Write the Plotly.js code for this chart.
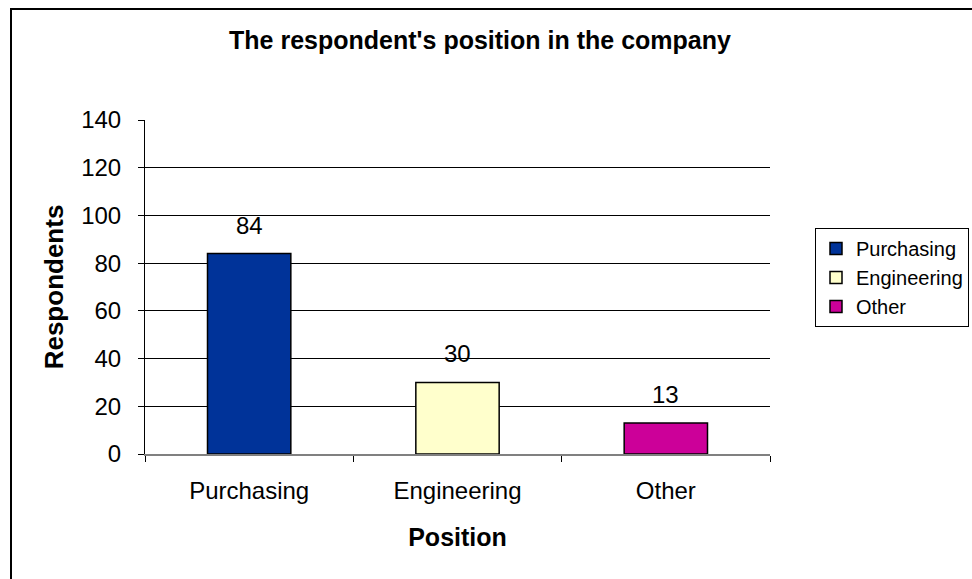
<!DOCTYPE html>
<html><head><meta charset="utf-8">
<script src="https://cdn.plot.ly/plotly-3.0.1.min.js"></script>
<style>
html,body{margin:0;padding:0;background:#fff;}
#wrap{position:relative;width:972px;height:579px;overflow:hidden;}
#chart{width:972px;height:579px;}
#frame{position:absolute;left:10px;top:8px;width:1000px;height:700px;border-left:2px solid #000;border-top:2px solid #000;box-sizing:border-box;pointer-events:none;}
</style></head>
<body><div id="wrap"><div id="chart"></div><div id="frame"></div></div>
<script>
const categories = ["Purchasing", "Engineering", "Other"];
const values = [84, 30, 13];
const colors = ["#003399", "#FFFFCC", "#CC0099"];
const yTicks = [0, 20, 40, 60, 80, 100, 120, 140];

const FONT = 'Arial, Liberation Sans, sans-serif';
const traces = categories.map((c, i) => ({
  type: 'bar', name: c, x: [c], y: [values[i]], width: 0.4,
  marker: {color: colors[i], line: {color: '#000', width: 1.5}},
  hoverinfo: 'x+y'
}));
const annotations = categories.map((c, i) => ({
  x: c, y: values[i], xref: 'x', yref: 'y', text: String(values[i]),
  showarrow: false, yanchor: 'bottom', yshift: 13,
  font: {family: FONT, size: 24, color: '#000'}
}));

const layout = {
  width: 972, height: 579,
  paper_bgcolor: '#fff', plot_bgcolor: '#fff',
  margin: {l: 145, r: 202, t: 120, b: 125, autoexpand: false},
  barmode: 'overlay',
  font: {family: FONT, color: '#000'},
  title: {text: "<b>The respondent's position in the company</b>", x: 480/972, xref: 'container',
    xanchor: 'center', y: 1 - 40/579, yref: 'container', yanchor: 'middle', font: {size: 25, color: '#000'}},
  xaxis: {
    type: 'category', categoryorder: 'array', categoryarray: categories,
    tickson: 'boundaries', ticks: 'outside', ticklen: 6, tickcolor: '#000', tickwidth: 1,
    showline: true, linecolor: '#808080', linewidth: 2, showgrid: false,
    tickfont: {size: 24}, range: [-0.5, 2.5], ticklabelstandoff: 14,
    title: {text: '<b>Position</b>', font: {size: 25}, standoff: 26}
  },
  yaxis: {
    range: [0, 140], tickvals: yTicks, ticks: 'outside', ticklen: 6, tickcolor: '#000',
    showline: true, linecolor: '#000', linewidth: 1,
    showgrid: true, gridcolor: '#000', gridwidth: 1, zeroline: false,
    tickfont: {size: 24}, ticklabelstandoff: 12,
    title: {text: '<b>Respondents</b>', font: {size: 26}, standoff: 10}
  },
  legend: {
    x: (815 - 145) / 625, xanchor: 'left', y: (454 - 228) / 334, yanchor: 'top',
    bordercolor: '#000', borderwidth: 1, bgcolor: '#fff',
    font: {size: 20}, tracegroupgap: 0, itemwidth: 30
  },
  annotations: annotations,
  showlegend: true
};
Plotly.newPlot('chart', traces, layout, {displayModeBar: false, staticPlot: true});
</script></body></html>
